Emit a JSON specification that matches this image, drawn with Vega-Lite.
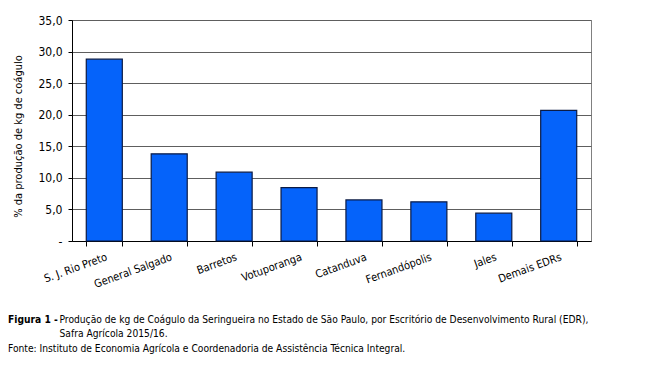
{
  "$schema": "https://vega.github.io/schema/vega-lite/v6.json",
  "width": 519,
  "height": 221,
  "autosize": {"type": "none"},
  "padding": {"left": 72, "top": 20, "right": 66, "bottom": 145},
  "background": "white",
  "config": {
    "font": "DejaVu Sans Condensed",
    "view": {"stroke": "#808080", "strokeWidth": 1}
  },
  "title": {
    "text": "Figura 1 -",
    "subtitle": "Fonte: Instituto de Economia Agrícola e Coordenadoria de Assistência Técnica Integral.",
    "orient": "bottom",
    "anchor": "start",
    "frame": "group",
    "dx": -64,
    "dy": -27,
    "fontSize": 10.2,
    "fontWeight": "bold",
    "color": "#000000",
    "subtitleFontSize": 10.2,
    "subtitleColor": "#000000",
    "subtitlePadding": 19
  },
  "data": {
    "values": [
      {"edr": "S. J. Rio Preto", "pct": 28.8},
      {"edr": "General Salgado", "pct": 13.8},
      {"edr": "Barretos", "pct": 10.9},
      {"edr": "Votuporanga", "pct": 8.45},
      {"edr": "Catanduva", "pct": 6.5},
      {"edr": "Fernandópolis", "pct": 6.2},
      {"edr": "Jales", "pct": 4.4},
      {"edr": "Demais EDRs", "pct": 20.7}
    ]
  },
  "mark": {"type": "bar", "color": "#0563FA", "stroke": "#0B1B45", "strokeWidth": 1.2},
  "encoding": {
    "x": {
      "field": "edr",
      "type": "nominal",
      "sort": null,
      "scale": {"paddingInner": 0.445, "paddingOuter": 0.22},
      "axis": {
        "title": ["Produção de kg de Coágulo da Seringueira no Estado de São Paulo, por Escritório de Desenvolvimento Rural (EDR),", "Safra Agrícola 2015/16."],
        "titleX": -13,
        "titleY": 81,
        "titleAlign": "left",
        "titleAnchor": "start",
        "titleBaseline": "alphabetic",
        "titleFontSize": 10.2,
        "titleFontWeight": "normal",
        "titleColor": "#000000",
        "titleLineHeight": 14,
        "labelAngle": -20,
        "labelAlign": "right",
        "labelBaseline": "top",
        "labelFontSize": 11,
        "labelColor": "#000000",
        "labelPadding": 5,
        "tickBand": "extent",
        "tickSize": 5,
        "tickColor": "#000000",
        "domainColor": "#000000",
        "grid": false
      }
    },
    "y": {
      "field": "pct",
      "type": "quantitative",
      "scale": {"domain": [0, 35], "nice": false},
      "axis": {
        "title": "% da produção de kg de coágulo",
        "titleX": -54,
        "titleY": 116,
        "titleAngle": -90,
        "titleAlign": "center",
        "titleBaseline": "middle",
        "titleFontSize": 11,
        "titleFontWeight": "normal",
        "titleColor": "#000000",
        "values": [0, 5, 10, 15, 20, 25, 30, 35],
        "labelExpr": "datum.value == 0 ? '-' : replace(format(datum.value, '.1f'), '.', ',')",
        "labelFontSize": 12,
        "labelColor": "#000000",
        "labelPadding": 6,
        "tickSize": 4,
        "tickColor": "#000000",
        "domainColor": "#000000",
        "grid": true,
        "gridColor": "#5E5E5E",
        "gridWidth": 1
      }
    }
  }
}
